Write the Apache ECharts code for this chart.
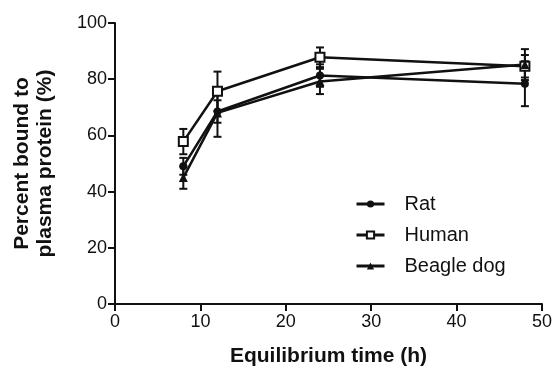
<!DOCTYPE html>
<html>
<head>
<meta charset="utf-8">
<script src="https://cdn.jsdelivr.net/npm/echarts@6/dist/echarts.min.js"></script>
<style>
  html, body { margin: 0; padding: 0; background: #fff; }
  #chart { width: 555px; height: 372px; }
</style>
</head>
<body>
<div id="chart"></div>
<script>
// equilibrium time points (h)
var times = [8, 12, 24, 48];

// percent bound, mean and SD
var ratMean = [49, 68.5, 81.3, 78.4];
var ratSd = [3, 4, 4, 8];
var humanMean = [57.8, 75.7, 87.8, 84.6];
var humanSd = [4.5, 7, 3.5, 4];
var dogMean = [45, 68, 79.2, 85.2];
var dogSd = [4, 8.5, 4.5, 5.5];

var font = "'Liberation Sans', Arial, sans-serif";
var ink = "#111";

function pairs(mean) {
  return times.map(function (t, i) { return [t, mean[i]]; });
}
function errData(mean, sd) {
  return times.map(function (t, i) { return [t, mean[i] - sd[i], mean[i] + sd[i]]; });
}

// vertical error bar with caps
function renderErr(params, api) {
  var lo = api.coord([api.value(0), api.value(1)]);
  var hi = api.coord([api.value(0), api.value(2)]);
  var w = 4;
  var style = { stroke: ink, lineWidth: 2 };
  return {
    type: "group",
    children: [
      { type: "line", shape: { x1: lo[0], y1: lo[1], x2: hi[0], y2: hi[1] }, style: style },
      { type: "line", shape: { x1: lo[0] - w, y1: lo[1], x2: lo[0] + w, y2: lo[1] }, style: style },
      { type: "line", shape: { x1: hi[0] - w, y1: hi[1], x2: hi[0] + w, y2: hi[1] }, style: style }
    ]
  };
}

function lineSeries(name, mean, symbol, size) {
  var hollow = name === "Human";
  return {
    name: name,
    type: "line",
    data: pairs(mean),
    symbol: symbol,
    symbolSize: size,
    showAllSymbol: true,
    z: 3,
    lineStyle: { color: ink, width: 2.5 },
    itemStyle: { color: hollow ? "#fff" : ink, borderColor: ink, borderWidth: hollow ? 2 : 0 }
  };
}

function errSeries(name, mean, sd) {
  return {
    name: name + " SD",
    type: "custom",
    renderItem: renderErr,
    data: errData(mean, sd),
    z: 2,
    encode: { x: 0, y: [1, 2] }
  };
}

var chart = echarts.init(document.getElementById("chart"));
chart.setOption({
  animation: false,
  grid: { left: 115, right: 12, top: 23, bottom: 66 },
  legend: {
    orient: "vertical",
    left: 350,
    top: 189,
    itemWidth: 28,
    itemHeight: 9,
    itemGap: 11,
    lineStyle: { width: 3 },
    data: ["Rat", "Human", "Beagle dog"],
    textStyle: { fontFamily: font, fontSize: 20, color: ink, padding: [0, 0, 0, 15] }
  },
  xAxis: {
    type: "value",
    min: 0,
    max: 50,
    interval: 10,
    name: "Equilibrium time (h)",
    nameLocation: "middle",
    nameGap: 42,
    nameTextStyle: { fontFamily: font, fontSize: 21, fontWeight: "bold", color: ink },
    axisLine: { lineStyle: { color: ink, width: 2 } },
    axisTick: { length: 7, lineStyle: { color: ink, width: 2 } },
    axisLabel: { fontFamily: font, fontSize: 18, color: ink, margin: 9 },
    splitLine: { show: false }
  },
  yAxis: {
    type: "value",
    min: 0,
    max: 100,
    interval: 20,
    name: "Percent bound to\nplasma protein (%)",
    nameLocation: "middle",
    nameGap: 58,
    nameTextStyle: { fontFamily: font, fontSize: 21, fontWeight: "bold", color: ink, lineHeight: 23 },
    axisLine: { show: true, lineStyle: { color: ink, width: 2 } },
    axisTick: { show: true, length: 7, lineStyle: { color: ink, width: 2 } },
    axisLabel: { fontFamily: font, fontSize: 18, color: ink, margin: 8 },
    splitLine: { show: false }
  },
  series: [
    errSeries("Rat", ratMean, ratSd),
    errSeries("Human", humanMean, humanSd),
    errSeries("Beagle dog", dogMean, dogSd),
    lineSeries("Rat", ratMean, "circle", 8),
    lineSeries("Human", humanMean, "rect", 9),
    lineSeries("Beagle dog", dogMean, "triangle", 9)
  ]
});
</script>
</body>
</html>
